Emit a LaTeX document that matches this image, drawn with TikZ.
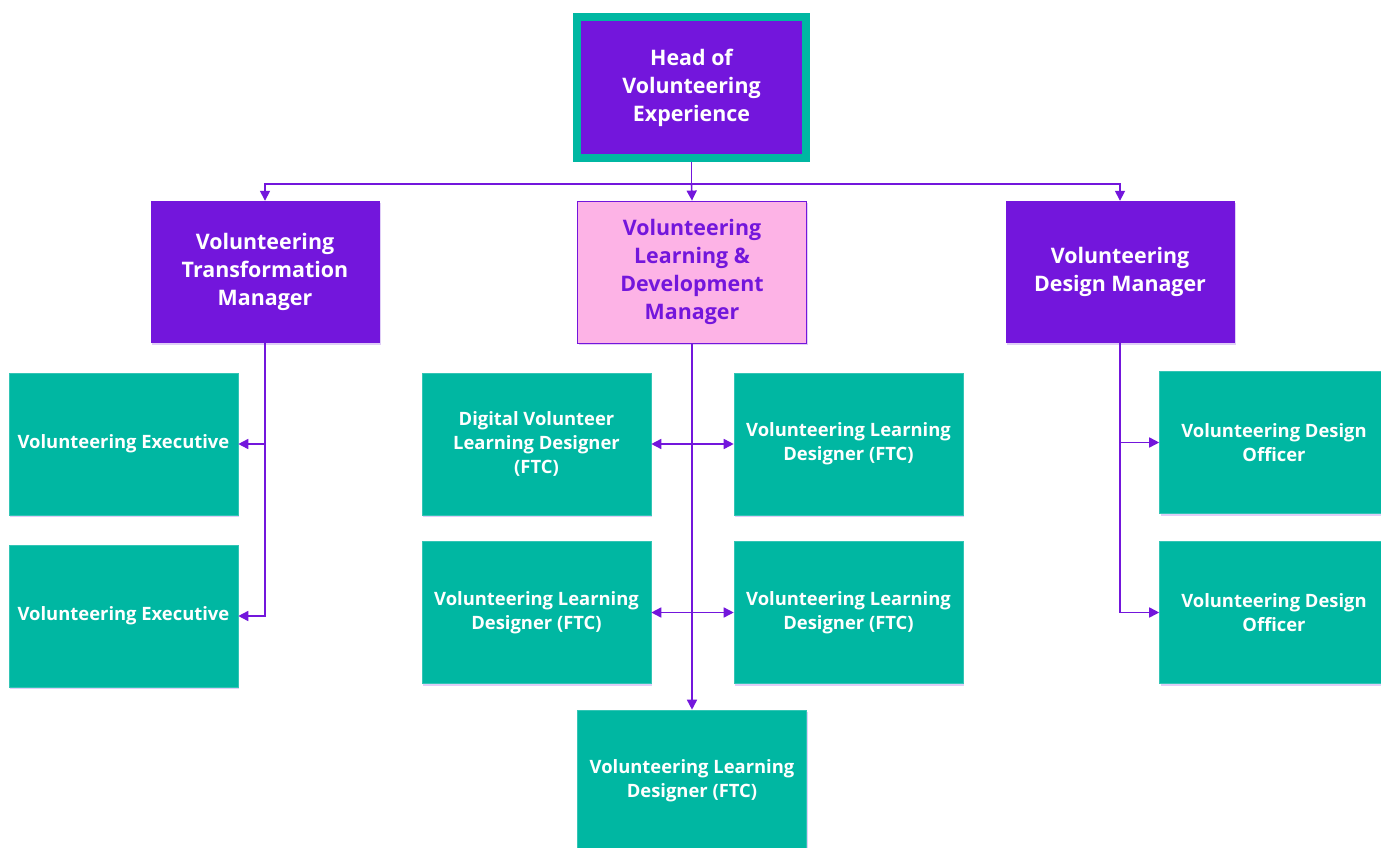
\documentclass[tikz,border=0pt]{standalone}
\usepackage{fontspec}
\setmainfont{Open Sans}[UprightFont=* Bold]
\usetikzlibrary{arrows.meta,shadows}
\definecolor{vpurple}{HTML}{7316DC}
\definecolor{vteal}{HTML}{00B7A2}
\definecolor{vpink}{HTML}{FDB3E6}
\definecolor{vshadow}{HTML}{D9C2F5}
\tikzset{
  box/.style={rectangle, minimum width=229pt, minimum height=142pt, inner sep=2pt, align=center,
    drop shadow={shadow xshift=1pt, shadow yshift=-2pt, fill=vshadow, opacity=0.8}},
  purplebox/.style={box, fill=vpurple, text=white, font=\fontsize{21.4}{28}\selectfont},
  pinkbox/.style={box, fill=vpink, draw=vpurple, line width=0.8pt, text=vpurple, font=\fontsize{21.4}{28}\selectfont},
  tealbox/.style={box, fill=vteal, draw=vteal!80!white, line width=0.6pt, text=white, font=\fontsize{18.4}{24}\selectfont},
  headbox/.style={rectangle, minimum width=229pt, minimum height=141pt, fill=vpurple, draw=vteal, line width=8pt,
    text=white, align=center, font=\fontsize{21.4}{28}\selectfont,
    drop shadow={shadow xshift=1pt, shadow yshift=-2pt, fill=vshadow, opacity=0.8}},
  conn/.style={draw=vpurple, line width=1.6pt},
  tip/.style={-{Triangle[length=10pt,width=10pt]}},
  tips/.style={{Triangle[length=10pt,width=10pt]}-{Triangle[length=10pt,width=10pt]}}
}
\begin{document}
\begin{tikzpicture}[x=1pt,y=-1pt]
\useasboundingbox (0,0) rectangle (1381,848);
\clip (0,0) rectangle (1381,848);
\fill[white] (0,0) rectangle (1381,848);
% nodes
\node[headbox] (head) at (691.5,87.5) {Head of\\Volunteering\\Experience};
\node[purplebox] (vtm) at (265,272) {Volunteering\\Transformation\\Manager};
\node[pinkbox] (vld) at (692,272) {Volunteering\\Learning \&\\Development\\Manager};
\node[purplebox] (vdm) at (1120,272) {Volunteering\\Design Manager};
\node[tealbox] (ve1) at (123.5,444) {Volunteering Executive};
\node[tealbox] (ve2) at (123.5,616) {Volunteering Executive};
\node[tealbox] (d1) at (536.5,444) {Digital Volunteer\\Learning Designer\\(FTC)};
\node[tealbox] (d2) at (848.5,444) {Volunteering Learning\\Designer (FTC)};
\node[tealbox] (d3) at (536.5,612.5) {Volunteering Learning\\Designer (FTC)};
\node[tealbox] (d4) at (848.5,612.5) {Volunteering Learning\\Designer (FTC)};
\node[tealbox] (d5) at (692,781) {Volunteering Learning\\Designer (FTC)};
\node[tealbox] (o1) at (1274,442.5) {Volunteering Design\\Officer};
\node[tealbox] (o2) at (1274,612.5) {Volunteering Design\\Officer};
% connectors
\coordinate (hb) at (691.5,184);
\draw[conn] (head.south) -- (hb);
\draw[conn,tip] (hb) -| (vtm.north);
\draw[conn,tip] (hb) -| (vdm.north);
\draw[conn,tip] (hb) -- (vld.north);
\draw[conn,tip] (vtm.south) |- (ve1.east);
\draw[conn,tip] (vtm.south) |- (ve2.east);
\draw[conn,tip] (vld.south) -- (d5.north);
\draw[conn,tips] (d1.east) -- (d2.west);
\draw[conn,tips] (d3.east) -- (d4.west);
\draw[conn,tip] (vdm.south) |- (o1.west);
\draw[conn,tip] (vdm.south) |- (o2.west);
\end{tikzpicture}
\end{document}
